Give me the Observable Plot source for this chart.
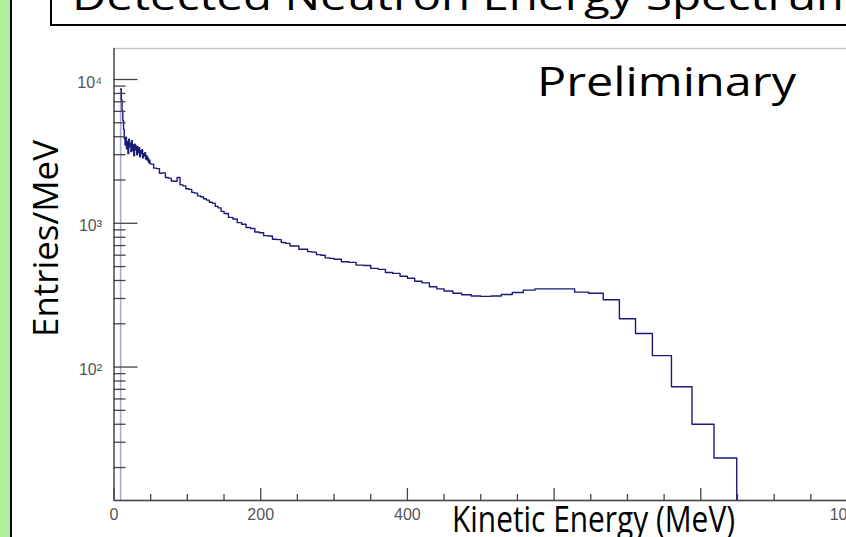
<!DOCTYPE html>
<html>
<head>
<meta charset="utf-8">
<script src="https://cdn.jsdelivr.net/npm/d3@7"></script>
<script src="https://cdn.jsdelivr.net/npm/@observablehq/plot@0.6"></script>
<style>
  html, body { margin: 0; padding: 0; background: #fff; overflow: hidden; }
  #stage { position: relative; width: 846px; height: 537px; overflow: hidden; background: #fff; }
  #green { position: absolute; left: 0; top: 0; width: 10px; height: 537px; background: #b4ee9c; border-right: 2.5px solid #000; }
  #titlebox { position: absolute; left: 50px; top: -40px; width: 900px; height: 61.5px; border: 2.5px solid #000; background: #fff; }
  #chart { position: absolute; left: 0; top: 0; width: 870px; height: 537px; }
  #chart svg { max-width: none !important; }
  #chart svg text { font-size: 16px !important; font-family: "Liberation Sans", Arial, sans-serif !important; }
  #overlay { position: absolute; left: 0; top: 0; pointer-events: none; }
  #overlay text { font-family: "Open Sans", "Noto Sans", sans-serif; fill: #000; }
</style>
</head>
<body>
<div id="stage">
  <div id="green"></div>
  <div id="titlebox"></div>
  <div id="chart"></div>
  <svg id="overlay" width="846" height="537" xmlns="http://www.w3.org/2000/svg">
    <text x="72" y="10" font-size="38" textLength="788" lengthAdjust="spacingAndGlyphs">Detected Neutron Energy Spectrum</text>
    <text x="537" y="96" font-size="41" textLength="259" lengthAdjust="spacingAndGlyphs">Preliminary</text>
    <text transform="translate(58,337) rotate(-90)" font-size="35" textLength="197" lengthAdjust="spacingAndGlyphs">Entries/MeV</text>
    <text x="452" y="532" font-size="36" textLength="283" lengthAdjust="spacingAndGlyphs">Kinetic Energy (MeV)</text>
  </svg>
</div>
<script>
// ---- data ----
const xDomain = [0, 1000];          // MeV
const yDomain = [11.8, 16430];      // Entries/MeV (log)

// histogram bin lower edges (MeV); last value is the upper edge of the final bin
const binEdges = [
  9,10,11,12,13,14,15,16,17,18,19,20,21,22,23,24,25,26,27,28,29,30,31,32,33,34,35,36,37,38,39,40,41,42,43,44,45,46,47,48,49,
  50,54,58,62,66,70,74,78,82,86,90,94,98,102,106,110,114,118,122,126,130,134,138,142,146,
  150,156,162,168,174,180,186,192,198,204,210,216,222,228,234,240,246,252,258,264,270,276,282,288,294,
  300,310,320,330,340,350,360,370,380,390,400,410,420,430,440,
  450,462,474,487,500,514,528,543,558,574,591,
  610,628,647,667,689,711,734,760,788,818,
  849
];

// entries per MeV in each bin
const entries = [
  8600,7200,6100,5200,4500,3900,3500,3950,3300,3700,3050,3850,3400,3600,3150,3750,3200,3500,2950,3550,3250,
  3450,3000,3400,3100,3350,2900,3200,3050,3250,2850,3050,2950,3100,2800,2950,2750,2850,2650,2750,2600,
  2580,2420,2400,2230,2240,2080,2060,1970,1960,2080,1850,1820,1740,1720,1640,1620,1550,1530,1480,1450,1400,1380,1310,1280,1210,
  1170,1100,1070,1010,985,935,920,870,860,820,815,775,770,735,725,695,695,660,660,635,630,605,600,575,570,
  562,540,535,512,508,486,478,455,448,428,415,395,385,362,350,
  338,326,318,312,310,312,320,330,343,350,350,
  350,332,326,294,217,171,120,73,40,23.3
];

const yMajorTicks = [100, 1000, 10000];
const yTickLabels = ["10\u00B2", "10\u00B3", "10\u2074"];
const yMinorTicks = [20,30,40,50,60,70,80,90,200,300,400,500,600,700,800,900,2000,3000,4000,5000,6000,7000,8000,9000];
const xMajorTicks = [0, 200, 400, 600, 800, 1000];
const xMinorTicks = [50,100,150,250,300,350,450,500,550,650,700,750,850,900,950];
const xTickLabels = [0, 200, 400, 1000];

// ---- build step outline ----
const pts = [];
for (let i = 0; i < entries.length; i++) pts.push({x: binEdges[i], y: entries[i]});
const lastEdge = binEdges[binEdges.length - 1];
pts.push({x: lastEdge, y: entries[entries.length - 1]});
pts.push({x: lastEdge, y: yDomain[0]});
// left edge of the first bin (drawn faint, as in the reference)
const firstRise = [{x: binEdges[0], y1: yDomain[0], y2: entries[0]}];

const yLabelMap = new Map(yMajorTicks.map((v, i) => [v, yTickLabels[i]]));

const W = 870, H = 537;
const chart = Plot.plot({
  width: W,
  height: H,
  marginLeft: 113.5,
  marginRight: W - 847,
  marginTop: 48,
  marginBottom: 37,
  style: {background: "transparent", fontFamily: "'Liberation Sans', Arial, sans-serif", fontSize: "16px", overflow: "visible", maxWidth: "none"},
  x: {domain: xDomain, label: null},
  y: {type: "log", domain: yDomain, label: null},
  marks: [
    Plot.frame({stroke: "#c4c4c4", strokeWidth: 1.5}),
    Plot.ruleX(firstRise, {x: "x", y1: "y1", y2: "y2", stroke: "#a8a8d4", strokeWidth: 1.6}),
    Plot.line(pts, {x: "x", y: "y", curve: "step-after", stroke: "#1a1a78", strokeWidth: 1.4, clip: true}),
    Plot.ruleX([xDomain[0]], {stroke: "#555", strokeWidth: 1.5}),
    Plot.ruleY([yDomain[0]], {stroke: "#444", strokeWidth: 1.5}),
    Plot.axisY(yMajorTicks, {anchor: "left", tickSize: -24, fill: "none", stroke: "#444", strokeWidth: 1.3, label: null}),
    Plot.axisY(yMinorTicks, {anchor: "left", tickSize: -12, fill: "none", stroke: "#444", strokeWidth: 1.3, label: null}),
    Plot.axisY(yMajorTicks, {anchor: "left", tickSize: 0, tickPadding: 12, dy: 3, fill: "#555", label: null, tickFormat: d => yLabelMap.get(d)}),
    Plot.axisX(xMajorTicks, {anchor: "bottom", tickSize: -12, fill: "none", stroke: "#444", strokeWidth: 1.3, label: null}),
    Plot.axisX(xMinorTicks, {anchor: "bottom", tickSize: -6, fill: "none", stroke: "#444", strokeWidth: 1.3, label: null}),
    Plot.axisX(xTickLabels, {anchor: "bottom", tickSize: 0, tickPadding: 8, fill: "#555", label: null, tickFormat: d => String(d)})
  ]
});
document.getElementById("chart").appendChild(chart);
</script>
</body>
</html>
